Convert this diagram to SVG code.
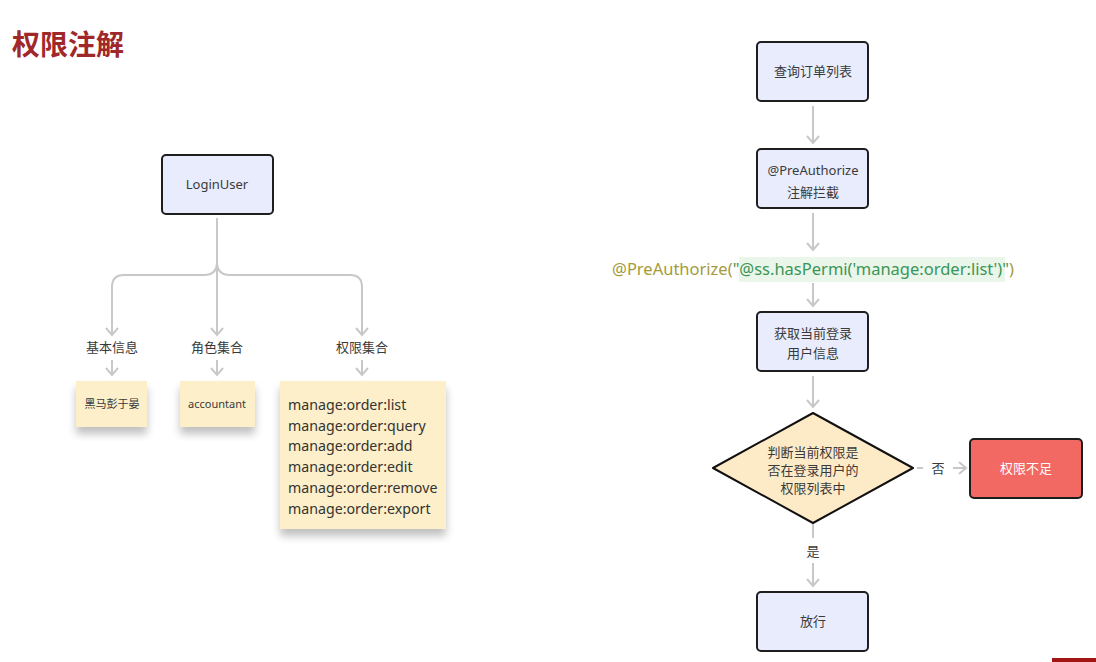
<svg xmlns="http://www.w3.org/2000/svg" width="1096" height="662" viewBox="0 0 1096 662">
<defs>
<style>
text{font-family:"Noto Sans","Noto Sans CJK SC",sans-serif;fill:#3a3a3a;}
.box{fill:#e8ecfd;stroke:#1e1e1e;stroke-width:2;}
.note{fill:#fcefc9;}
.con{fill:none;stroke:#c8c8c8;stroke-width:2;}
.t13{font-size:13px;text-anchor:middle;}
.t11{font-size:11px;text-anchor:middle;}
.perm{font-size:14.2px;fill:#333;}
</style>
<marker id="arr" markerWidth="10" markerHeight="14" refX="8" refY="7" orient="auto" markerUnits="userSpaceOnUse" viewBox="0 0 10 14">
<path d="M1,1 L8,7 L1,13" fill="none" stroke="#c8c8c8" stroke-width="2"/>
</marker>
<filter id="sh" x="-20%" y="-20%" width="140%" height="150%">
<feGaussianBlur in="SourceAlpha" stdDeviation="4"/>
<feOffset dx="0" dy="7" result="b"/>
<feComponentTransfer><feFuncA type="linear" slope="0.25"/></feComponentTransfer>
<feMerge><feMergeNode/><feMergeNode in="SourceGraphic"/></feMerge>
</filter>
</defs>
<rect width="1096" height="662" fill="#ffffff"/>
<text x="12" y="55" style="font-size:28px;font-weight:bold;fill:#a0282a;font-family:'Noto Sans CJK SC',sans-serif">权限注解</text>

<g id="connectors">
<path class="con" d="M217,218 V335" marker-end="url(#arr)"/>
<path class="con" d="M217,262 Q217,275 204,275 H124 Q112,275 112,287 V335" marker-end="url(#arr)"/>
<path class="con" d="M217,262 Q217,275 230,275 H350 Q362,275 362,287 V335" marker-end="url(#arr)"/>
<path class="con" d="M112,360 V375" marker-end="url(#arr)"/>
<path class="con" d="M217,360 V375" marker-end="url(#arr)"/>
<path class="con" d="M362,360 V375" marker-end="url(#arr)"/>
<path class="con" d="M813,106 V143" marker-end="url(#arr)"/>
<path class="con" d="M813,213 V250" marker-end="url(#arr)"/>
<path class="con" d="M813,283 V306" marker-end="url(#arr)"/>
<path class="con" d="M813,376 V407" marker-end="url(#arr)"/>
<path class="con" d="M813,524 V538"/>
<path class="con" d="M813,563 V586" marker-end="url(#arr)"/>
<path class="con" d="M917,468 H923"/>
<path class="con" d="M953,468 H966" marker-end="url(#arr)"/>
<text class="t13" x="938" y="473">否</text>
<text class="t13" x="813" y="556">是</text>
</g>

<g id="loginuser">
<rect class="box" x="162" y="155" width="111" height="59" rx="4"/>
<text class="t13" x="217" y="189">LoginUser</text>
</g>
<g id="label-basic"><text class="t13" x="112" y="352">基本信息</text></g>
<g id="label-role"><text class="t13" x="217" y="352">角色集合</text></g>
<g id="label-perm"><text class="t13" x="362" y="352">权限集合</text></g>
<g id="note-basic">
<rect class="note" x="76" y="381" width="71" height="46" filter="url(#sh)"/>
<text class="t11" x="112" y="408">黑马彭于晏</text>
</g>
<g id="note-role">
<rect class="note" x="180" y="381" width="75" height="46" filter="url(#sh)"/>
<text class="t11" x="217" y="408">accountant</text>
</g>
<g id="note-perm">
<rect class="note" x="280" y="381" width="166" height="148" filter="url(#sh)"/>
<text class="perm" x="288" y="410">manage:order:list</text>
<text class="perm" x="288" y="431">manage:order:query</text>
<text class="perm" x="288" y="451">manage:order:add</text>
<text class="perm" x="288" y="472">manage:order:edit</text>
<text class="perm" x="288" y="493">manage:order:remove</text>
<text class="perm" x="288" y="514">manage:order:export</text>
</g>

<g id="query">
<rect class="box" x="757" y="42" width="111" height="59" rx="4"/>
<text class="t13" x="813" y="76">查询订单列表</text>
</g>
<g id="preauth">
<rect class="box" x="757" y="149" width="111" height="59" rx="4"/>
<text class="t13" x="813" y="175">@PreAuthorize</text>
<text class="t13" x="813" y="197">注解拦截</text>
</g>
<g id="annotation">
<rect x="739" y="257" width="266" height="25" fill="#eaf6ea"/>
<text x="813" y="275" style="font-size:16.5px;text-anchor:middle"><tspan style="fill:#a59a3c">@PreAuthorize(</tspan><tspan style="fill:#3a9556">"@ss.hasPermi('manage:order:list')"</tspan><tspan style="fill:#a59a3c">)</tspan></text>
</g>
<g id="getuser">
<rect class="box" x="757" y="312" width="111" height="59" rx="4"/>
<text class="t13" x="813" y="338">获取当前登录</text>
<text class="t13" x="813" y="358">用户信息</text>
</g>
<g id="decision">
<polygon points="813,413 913,468 813,523 713,468" fill="#fdebc8" stroke="#111" stroke-width="2" stroke-linejoin="round"/>
<text class="t13" x="813" y="457">判断当前权限是</text>
<text class="t13" x="813" y="475">否在登录用户的</text>
<text class="t13" x="813" y="493">权限列表中</text>
</g>
<g id="deny">
<rect x="970" y="439" width="112" height="59" rx="4" fill="#f26862" stroke="#1e1e1e" stroke-width="2"/>
<text class="t13" x="1026" y="473" style="fill:#ffffff">权限不足</text>
</g>
<g id="allow">
<rect class="box" x="757" y="592" width="111" height="59" rx="4"/>
<text class="t13" x="813" y="626">放行</text>
</g>
<rect x="1052" y="658" width="44" height="4" fill="#a31515"/>
</svg>
